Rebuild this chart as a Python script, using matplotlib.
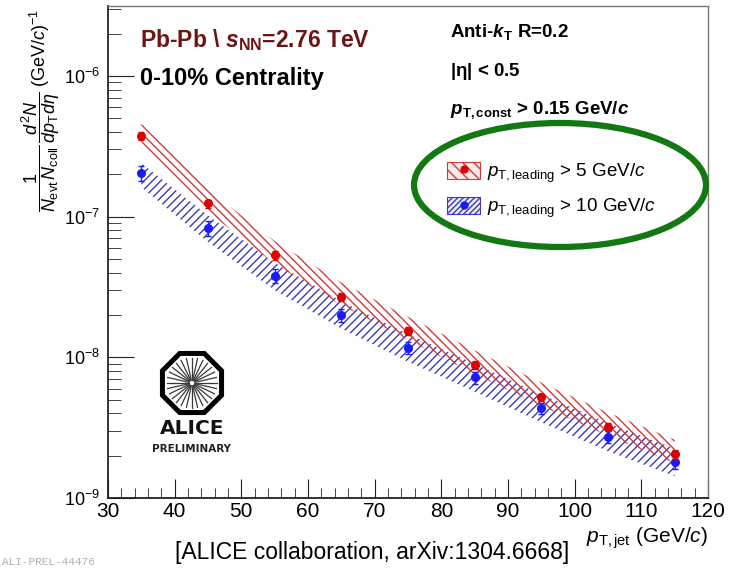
import numpy as np
import matplotlib
matplotlib.use('Agg')
import matplotlib.pyplot as plt
from matplotlib.patches import Ellipse, RegularPolygon, Patch
from matplotlib.lines import Line2D
from matplotlib.legend_handler import HandlerTuple
from matplotlib.ticker import LogLocator, MultipleLocator, NullFormatter

plt.rcParams['font.family'] = ['Liberation Sans', 'DejaVu Sans']
plt.rcParams['mathtext.fontset'] = 'custom'
plt.rcParams['mathtext.rm'] = 'Liberation Sans'
plt.rcParams['mathtext.it'] = 'Liberation Sans:italic'
plt.rcParams['mathtext.bf'] = 'Liberation Sans:bold'
plt.rcParams['mathtext.bfit'] = 'Liberation Sans:italic:bold'
plt.rcParams['hatch.linewidth'] = 1.0

# jet pT bin centres (GeV/c)
pt_jet = [35, 45, 55, 65, 75, 85, 95, 105, 115]

# pT,leading > 5 GeV/c (red)
red_y = [3.75e-7, 1.24e-7, 5.3e-8, 2.7e-8, 1.53e-8, 8.8e-9, 5.2e-9, 3.19e-9, 2.05e-9]
red_stat = [2.4e-8, 8e-9, 3.5e-9, 1.8e-9, 1.0e-9, 5.5e-10, 3.3e-10, 2.1e-10, 1.5e-10]
red_sys_lo = [3.3e-7, 1.08e-7, 4.6e-8, 2.35e-8, 1.33e-8, 7.6e-9, 4.5e-9, 2.76e-9, 1.77e-9]
red_sys_hi = [4.6e-7, 1.56e-7, 6.7e-8, 3.4e-8, 1.94e-8, 1.12e-8, 6.6e-9, 4.05e-9, 2.6e-9]

# pT,leading > 10 GeV/c (blue)
blue_y = [2.03e-7, 8.3e-8, 3.8e-8, 2.0e-8, 1.17e-8, 7.2e-9, 4.35e-9, 2.71e-9, 1.8e-9]
blue_stat = [2.5e-8, 1.0e-8, 4.5e-9, 2.2e-9, 1.2e-9, 7e-10, 4.2e-10, 2.6e-10, 1.9e-10]
blue_sys_lo = [1.62e-7, 6.6e-8, 3.0e-8, 1.6e-8, 9.3e-9, 5.7e-9, 3.45e-9, 2.15e-9, 1.43e-9]
blue_sys_hi = [2.4e-7, 1.02e-7, 4.7e-8, 2.5e-8, 1.46e-8, 9.0e-9, 5.45e-9, 3.4e-9, 2.25e-9]

red_col = '#e00000'
blue_col = '#1a1aff'
red_band = '#d03a3a'
blue_band = '#3c3cb0'

W, H = 737, 575
fig = plt.figure(figsize=(W / 100, H / 100), dpi=100)
ax = fig.add_axes([108 / W, 1 - 498 / H, 600 / W, 492 / H])

ax.fill_between(pt_jet, blue_sys_lo, blue_sys_hi, facecolor='none', edgecolor=blue_band,
                hatch='////', linewidth=0)
ax.fill_between(pt_jet, red_sys_lo, red_sys_hi, facecolor='none', edgecolor=red_band,
                hatch='\\\\\\\\', linewidth=0)
ax.errorbar(pt_jet, blue_y, yerr=blue_stat, fmt='o', color=blue_col, ms=5.5, capsize=2,
            elinewidth=1, zorder=5)
ax.errorbar(pt_jet, red_y, yerr=red_stat, fmt='o', color=red_col, ms=5.5, capsize=2,
            elinewidth=1, zorder=6)

ax.set_yscale('log')
ax.set_xlim(30, 120)
ax.set_ylim(1e-9, 3.14e-6)
ax.xaxis.set_major_locator(MultipleLocator(10))
ax.xaxis.set_minor_locator(MultipleLocator(2))
ax.yaxis.set_major_locator(LogLocator(base=10, numticks=10))
ax.yaxis.set_minor_locator(LogLocator(base=10, subs=np.arange(2, 10), numticks=20))
ax.yaxis.set_minor_formatter(NullFormatter())
ax.tick_params(axis='both', which='both', direction='in', top=False, right=False,
               color='#222222')
ax.tick_params(axis='x', which='major', length=14, labelsize=15, pad=3)
ax.tick_params(axis='x', which='minor', length=7)
ax.tick_params(axis='y', which='major', length=19, labelsize=13, pad=6)
ax.tick_params(axis='y', which='minor', length=9)
for s in ['left', 'bottom']:
    ax.spines[s].set_color('#222222')
    ax.spines[s].set_linewidth(1.3)
for s in ['top', 'right']:
    ax.spines[s].set_color('#777777')
    ax.spines[s].set_linewidth(1.0)

ax.set_ylabel(r'$\dfrac{1}{N_{\rm evt}\,N_{\rm coll}}\,\dfrac{d^{2}N}{dp_{\rm T}d\eta}$ (GeV/$c$)$^{-1}$',
              fontsize=13)
ax.yaxis.set_label_coords(-0.077, 0.787)
fig.text(708 / W, 1 - 538 / H, r'$p_{\rm T,jet}$ (GeV/$c$)', fontsize=15, ha='right', va='center')

fig.text(140 / W, 1 - 40 / H, r'Pb-Pb \ $\mathbfit{s}_{\mathbf{NN}}$=2.76 TeV', fontsize=16.5,
         fontweight='bold', color='#6b1515', va='center')
fig.text(140 / W, 1 - 78 / H, '0-10% Centrality', fontsize=17, fontweight='bold', va='center')
fig.text(450 / W, 1 - 32 / H, r'Anti-$\mathbfit{k}_{\mathbf{T}}$ R=0.2', fontsize=13.5,
         fontweight='bold', va='center')
fig.text(450 / W, 1 - 71 / H, r'|$\mathbf{\eta}$| < 0.5', fontsize=13.5, fontweight='bold', va='center')
fig.text(450 / W, 1 - 110 / H, r'$\mathbfit{p}_{\mathbf{T,const}}$ > 0.15 GeV/$\mathbfit{c}$',
         fontsize=13.5, fontweight='bold', va='center')

h_red = (Patch(facecolor='#fbeaea', edgecolor=red_band, hatch='\\\\\\', linewidth=0.8),
         Line2D([], [], marker='o', color=red_col, ls='none', ms=5))
h_blue = (Patch(facecolor='#eaeaf8', edgecolor=blue_band, hatch='//////', linewidth=0.8),
          Line2D([], [], marker='o', color=blue_col, ls='none', ms=5))
fig.legend([h_red, h_blue],
           [r'$p_{\rm T,leading}$ > 5 GeV/$c$', r'$p_{\rm T,leading}$ > 10 GeV/$c$'],
           handler_map={tuple: HandlerTuple(ndivide=1)},
           loc='upper left', bbox_to_anchor=(440 / W, 1 - 154 / H), frameon=False,
           fontsize=13.5, handlelength=1.75, handleheight=1.0, handletextpad=0.35,
           labelspacing=0.65, borderaxespad=0)

fig.add_artist(Ellipse((560 / W, 1 - 185 / H), 292 / W, 124 / H, transform=fig.transFigure,
                       facecolor='none', edgecolor='#127812', linewidth=4.5, zorder=10))

# ALICE logo
lax = fig.add_axes([(192 - 40) / W, 1 - (383 + 40) / H, 80 / W, 80 / H])
lax.set_xlim(-40, 40)
lax.set_ylim(-40, 40)
lax.axis('off')
lax.add_patch(RegularPolygon((0, 0), numVertices=8, radius=32, orientation=np.pi / 8,
                             facecolor='white', edgecolor='black', linewidth=3.6))
for a in np.linspace(0, 2 * np.pi, 28, endpoint=False):
    lax.plot([3 * np.cos(a), 25 * np.cos(a)], [3 * np.sin(a), 25 * np.sin(a)],
             color='#3a3a3a', lw=0.9)
fig.text(192 / W, 1 - 429 / H, 'ALICE', fontsize=14.5, family='DejaVu Sans', fontweight='bold',
         ha='center', va='center', color='#111111')
fig.text(192 / W, 1 - 449 / H, 'PRELIMINARY', fontsize=7.5, family='DejaVu Sans',
         fontweight='bold', ha='center', va='center', color='#222222')

fig.text(372 / W, 1 - 553 / H, '[ALICE collaboration, arXiv:1304.6668]', fontsize=16.5,
         ha='center', va='center')
fig.text(2 / W, 1 - 562 / H, 'ALI-PREL-44476', fontsize=8, family='Liberation Mono',
         color='#b0b0b0', va='center')

fig.savefig('out.png', dpi=100)
